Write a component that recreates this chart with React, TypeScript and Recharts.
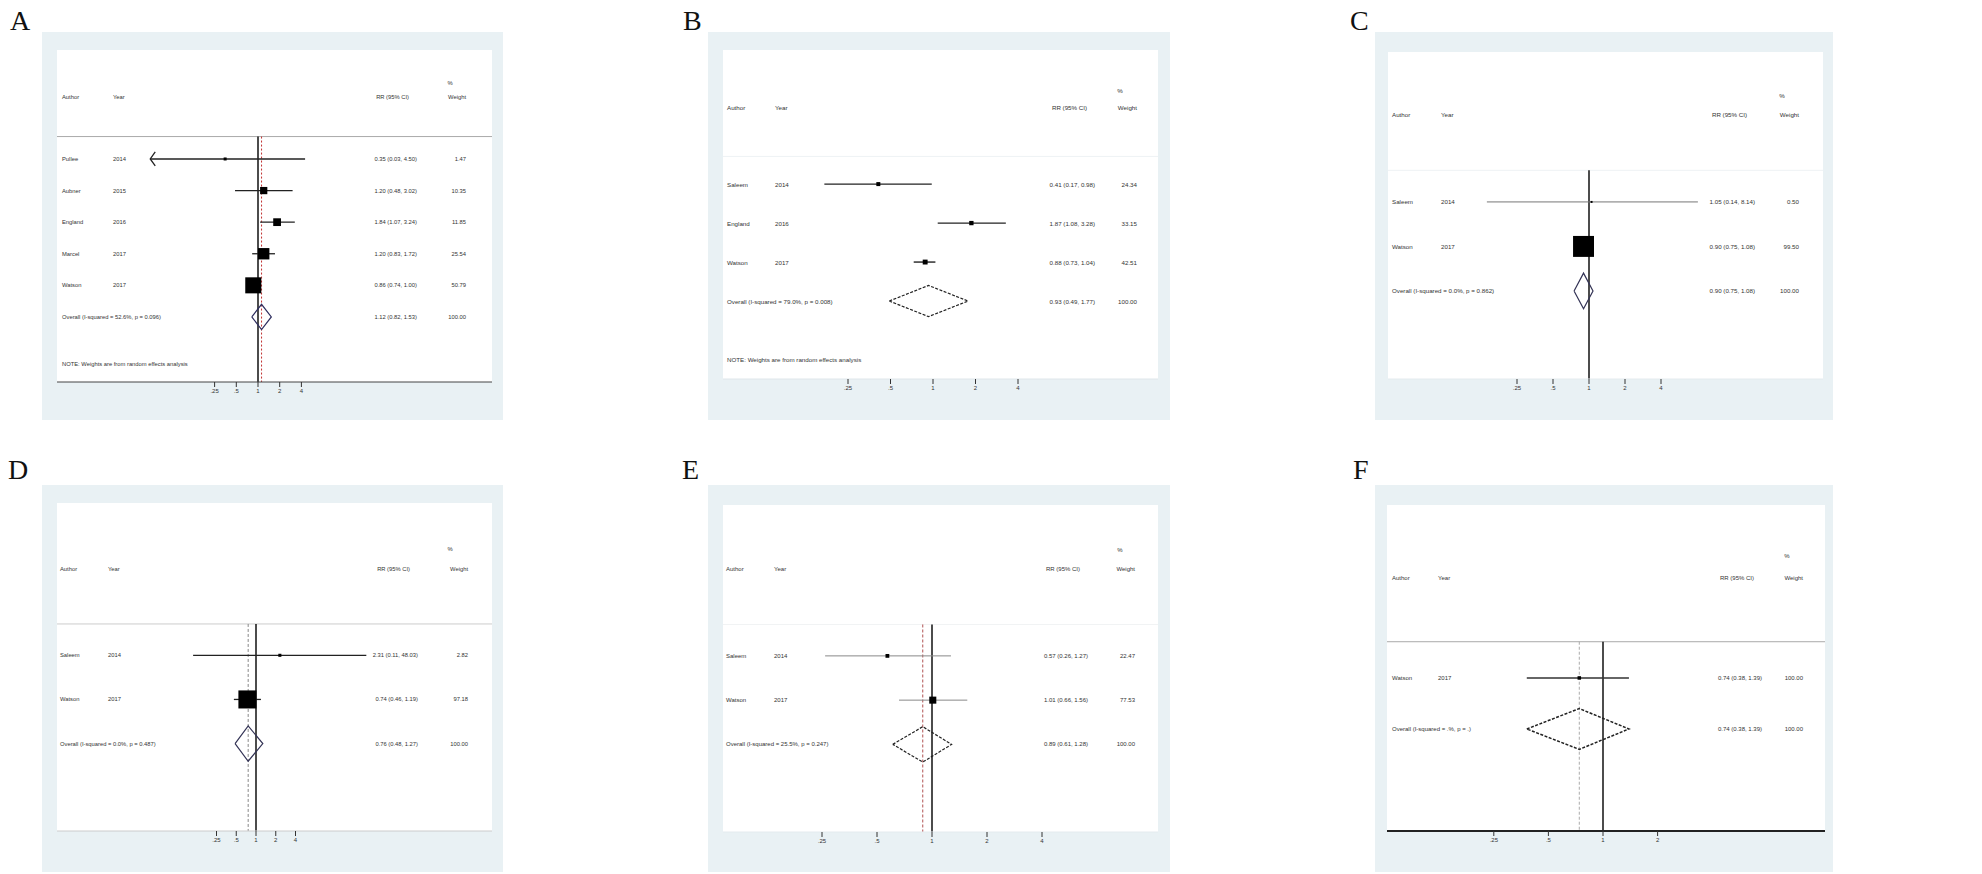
import React from 'react';
import { ComposedChart, XAxis, YAxis, Scatter, ReferenceLine } from 'recharts';

// ---------- Panel A ----------
const aAuthors = ['Pullee', 'Aubner', 'England', 'Marcel', 'Watson'];
const aYears = ['2014', '2015', '2016', '2017', '2017'];
const aEst = [0.35, 1.2, 1.84, 1.2, 0.86];
const aLo = [0.03, 0.48, 1.07, 0.83, 0.74];
const aHi = [4.5, 3.02, 3.24, 1.72, 1.0];
const aWeights = [1.47, 10.35, 11.85, 25.54, 50.79];
const aOverall = [1.12, 0.82, 1.53];
const aHet = ['52.6%', '0.096'];

// ---------- Panel B ----------
const bAuthors = ['Saleem', 'England', 'Watson'];
const bYears = ['2014', '2016', '2017'];
const bEst = [0.41, 1.87, 0.88];
const bLo = [0.17, 1.08, 0.73];
const bHi = [0.98, 3.28, 1.04];
const bWeights = [24.34, 33.15, 42.51];
const bOverall = [0.93, 0.49, 1.77];
const bHet = ['79.0%', '0.008'];

// ---------- Panel C ----------
const cAuthors = ['Saleem', 'Watson'];
const cYears = ['2014', '2017'];
const cEst = [1.05, 0.9];
const cLo = [0.14, 0.75];
const cHi = [8.14, 1.08];
const cWeights = [0.5, 99.5];
const cOverall = [0.9, 0.75, 1.08];
const cHet = ['0.0%', '0.862'];

// ---------- Panel D ----------
const dAuthors = ['Saleem', 'Watson'];
const dYears = ['2014', '2017'];
const dEst = [2.31, 0.74];
const dLo = [0.11, 0.46];
const dHi = [48.03, 1.19];
const dWeights = [2.82, 97.18];
const dOverall = [0.76, 0.48, 1.27];
const dHet = ['0.0%', '0.487'];

// ---------- Panel E ----------
const eAuthors = ['Saleem', 'Watson'];
const eYears = ['2014', '2017'];
const eEst = [0.57, 1.01];
const eLo = [0.26, 0.66];
const eHi = [1.27, 1.56];
const eWeights = [22.47, 77.53];
const eOverall = [0.89, 0.61, 1.28];
const eHet = ['25.5%', '0.247'];

// ---------- Panel F ----------
const fAuthors = ['Watson'];
const fYears = ['2017'];
const fEst = [0.74];
const fLo = [0.38];
const fHi = [1.39];
const fWeights = [100.0];
const fOverall = [0.74, 0.38, 1.39];
const fHet = ['.%', '.'];

const ticks5 = [0.25, 0.5, 1, 2, 4];
const ticks4 = [0.25, 0.5, 1, 2];
const headerLabels = ['Author', 'Year', 'RR (95% CI)', 'Weight', '%'];
const noteText = 'NOTE: Weights are from random effects analysis';

const FONT = '"Liberation Sans", Arial, sans-serif';

const fmtTick = (v: number) => (v < 1 ? String(v).replace(/^0/, '') : String(v));
const fmtCI = (e: number, l: number, h: number) => `${e.toFixed(2)} (${l.toFixed(2)}, ${h.toFixed(2)})`;

type Cfg = {
  letter: string; letterX: number; letterY: number;
  box: [number, number, number, number];
  left: number; top: number; w: number; h: number;
  nullX: number; ppd: number; yTop: number; yBot: number;
  cA: number; cY: number; cRR: number; cW: number; cPct: number; fs: number;
  boxK: number; minBox: number;
  ciStroke: string; ciW: number;
  dStroke: string; dDash?: string; dW: number;
  oLine?: { c: string; dash: string };
  nullLine: boolean; hLine: string; axis: string; axisW: number;
  ticks: number[]; clipMin?: number; note: boolean;
};

type PanelData = {
  authors: string[]; years: string[]; est: number[]; lo: number[]; hi: number[]; weights: number[];
  overall: number[]; het: string[];
};

function ForestPanel({ cfg, d }: { cfg: Cfg; d: PanelData }) {
  const axisH = 28;
  const dLo = Math.pow(2, -cfg.nullX / cfg.ppd);
  const dHi = Math.pow(2, (cfg.w - cfg.nullX) / cfg.ppd);
  const n = d.authors.length;
  const oRow = n;
  const hLineRow = -0.71;
  const studies = d.authors.map((a, i) => ({ x: d.est[i], y: i, w: d.weights[i] }));
  const textRows = [
    ...d.authors.map((a, i) => ({
      x: 1, y: i, a, yr: d.years[i], ci: fmtCI(d.est[i], d.lo[i], d.hi[i]), wt: d.weights[i].toFixed(2),
    })),
    {
      x: 1, y: oRow, a: `Overall  (I-squared = ${d.het[0]}, p = ${d.het[1]})`, yr: '',
      ci: fmtCI(d.overall[0], d.overall[1], d.overall[2]), wt: '100.00',
    },
  ];
  const [oe, ol, oh] = d.overall;
  const diamond = [
    { x: ol, y: oRow }, { x: oe, y: oRow - 0.4 }, { x: oh, y: oRow }, { x: oe, y: oRow + 0.4 }, { x: ol, y: oRow },
  ];
  const arrows = d.lo.map((l, i) => ({ l, i })).filter((o) => cfg.clipMin && o.l < cfg.clipMin)
    .map((o) => ({ x: cfg.clipMin as number, y: o.i }));
  const textStyle = { fontFamily: FONT, fontSize: cfg.fs, fill: '#333' };

  return (
    <>
      <div style={{ position: 'absolute', left: cfg.box[0], top: cfg.box[1], width: cfg.box[2], height: cfg.box[3], background: '#e9f1f4' }} />
      <div style={{ position: 'absolute', left: cfg.left, top: cfg.top, width: cfg.w, height: cfg.h, background: '#ffffff' }} />
      <div style={{ position: 'absolute', left: cfg.letterX, top: cfg.letterY, fontFamily: '"Liberation Serif", "Times New Roman", serif', fontSize: 28, lineHeight: 1, color: '#111' }}>{cfg.letter}</div>
      <div style={{ position: 'absolute', left: cfg.left, top: cfg.top }}>
        <ComposedChart width={cfg.w} height={cfg.h + axisH} margin={{ top: 0, right: 0, bottom: 0, left: 0 }}>
          <XAxis
            type="number" dataKey="x" scale="log" domain={[dLo, dHi]} allowDataOverflow
            ticks={cfg.ticks} tickFormatter={fmtTick} height={axisH} interval={0}
            tick={{ fontSize: 6, fill: '#333', fontFamily: FONT }}
            tickLine={{ stroke: '#333', strokeWidth: 1 }} tickSize={5}
            axisLine={{ stroke: cfg.axis, strokeWidth: cfg.axisW }}
          />
          <YAxis type="number" dataKey="y" domain={[cfg.yTop, cfg.yBot]} reversed hide allowDataOverflow />
          <ReferenceLine y={hLineRow} stroke={cfg.hLine} strokeWidth={1} ifOverflow="visible" />
          {cfg.nullLine && (
            <ReferenceLine segment={[{ x: 1, y: hLineRow }, { x: 1, y: cfg.yBot }]} stroke="#111" strokeWidth={1.5} ifOverflow="visible" />
          )}
          {cfg.oLine && (
            <ReferenceLine segment={[{ x: oe, y: hLineRow }, { x: oe, y: cfg.yBot }]} stroke={cfg.oLine.c} strokeWidth={1} strokeDasharray={cfg.oLine.dash} ifOverflow="visible" />
          )}
          {d.lo.map((l, i) => (
            <ReferenceLine
              key={`ci${i}`}
              segment={[{ x: cfg.clipMin && l < cfg.clipMin ? cfg.clipMin : l, y: i }, { x: d.hi[i], y: i }]}
              stroke={cfg.ciStroke} strokeWidth={cfg.ciW} ifOverflow="visible"
            />
          ))}
          <Scatter
            data={arrows} isAnimationActive={false}
            shape={(p: any) => (
              <polyline points={`${p.cx + 5},${p.cy - 7} ${p.cx},${p.cy} ${p.cx + 5},${p.cy + 7}`} fill="none" stroke={cfg.ciStroke} strokeWidth={1.3} />
            )}
          />
          <Scatter
            data={studies} isAnimationActive={false}
            shape={(p: any) => {
              const s = Math.max(cfg.minBox, cfg.boxK * Math.sqrt(p.payload.w));
              return <rect x={p.cx - s / 2} y={p.cy - s / 2} width={s} height={s} fill="#000" />;
            }}
          />
          <Scatter
            data={diamond} isAnimationActive={false}
            line={{ stroke: cfg.dStroke, strokeWidth: cfg.dW, strokeDasharray: cfg.dDash }}
            shape={() => <g />}
          />
          <Scatter
            data={textRows} isAnimationActive={false}
            shape={(p: any) => (
              <g style={textStyle as any}>
                <text x={cfg.cA} y={p.cy} dominantBaseline="central" {...textStyle}>{p.payload.a}</text>
                <text x={cfg.cY} y={p.cy} dominantBaseline="central" {...textStyle}>{p.payload.yr}</text>
                <text x={cfg.cRR} y={p.cy} dominantBaseline="central" textAnchor="end" {...textStyle}>{p.payload.ci}</text>
                <text x={cfg.cW} y={p.cy} dominantBaseline="central" textAnchor="end" {...textStyle}>{p.payload.wt}</text>
              </g>
            )}
          />
          <Scatter
            data={[{ x: 1, y: -1.96 }]} isAnimationActive={false}
            shape={(p: any) => (
              <g>
                <text x={cfg.cA} y={p.cy} dominantBaseline="central" {...textStyle}>{headerLabels[0]}</text>
                <text x={cfg.cY} y={p.cy} dominantBaseline="central" {...textStyle}>{headerLabels[1]}</text>
                <text x={cfg.cRR - 8} y={p.cy} dominantBaseline="central" textAnchor="end" {...textStyle}>{headerLabels[2]}</text>
                <text x={cfg.cW} y={p.cy} dominantBaseline="central" textAnchor="end" {...textStyle}>{headerLabels[3]}</text>
              </g>
            )}
          />
          <Scatter
            data={[{ x: 1, y: -2.4 }]} isAnimationActive={false}
            shape={(p: any) => (
              <text x={cfg.cPct} y={p.cy} dominantBaseline="central" textAnchor="middle" {...textStyle}>{headerLabels[4]}</text>
            )}
          />
          {cfg.note && (
            <Scatter
              data={[{ x: 1, y: oRow + 1.5 }]} isAnimationActive={false}
              shape={(p: any) => (
                <text x={cfg.cA} y={p.cy} dominantBaseline="central" {...textStyle}>{noteText}</text>
              )}
            />
          )}
        </ComposedChart>
      </div>
    </>
  );
}

const cfgA: Cfg = {
  letter: 'A', letterX: 10, letterY: 7, box: [42, 32, 461, 388],
  left: 57, top: 50, w: 435, h: 332, nullX: 201, ppd: 21.7, yTop: -3.45, yBot: 7.06,
  cA: 5, cY: 56, cRR: 360, cW: 409, cPct: 393, fs: 5.8, boxK: 2.25, minBox: 3,
  ciStroke: '#222', ciW: 1.3, dStroke: '#2d2d5e', dW: 1.2, oLine: { c: '#c03030', dash: '2 2' },
  nullLine: true, hLine: '#aaaaaa', axis: '#444', axisW: 1, ticks: ticks5, clipMin: 0.032, note: true,
};
const cfgB: Cfg = {
  letter: 'B', letterX: 683, letterY: 7, box: [708, 32, 462, 388],
  left: 723, top: 50, w: 435, h: 329, nullX: 210, ppd: 42.5, yTop: -3.44, yBot: 5.0,
  cA: 4, cY: 52, cRR: 372, cW: 414, cPct: 397, fs: 6.2, boxK: 0.75, minBox: 4,
  ciStroke: '#222', ciW: 1.4, dStroke: '#222', dDash: '3 1.5', dW: 1.2,
  nullLine: false, hLine: '#eef2f5', axis: '#dfe6ea', axisW: 1, ticks: ticks5, note: true,
};
const cfgC: Cfg = {
  letter: 'C', letterX: 1350, letterY: 7, box: [1375, 32, 458, 388],
  left: 1388, top: 52, w: 435, h: 327, nullX: 201, ppd: 36, yTop: -3.37, yBot: 3.98,
  cA: 4, cY: 53, cRR: 367, cW: 411, cPct: 394, fs: 6.2, boxK: 2.1, minBox: 2,
  ciStroke: '#777', ciW: 1, dStroke: '#333355', dW: 1.2,
  nullLine: true, hLine: '#eef2f4', axis: '#e4ebee', axisW: 1, ticks: ticks5, note: false,
};
const cfgD: Cfg = {
  letter: 'D', letterX: 8, letterY: 456, box: [42, 485, 461, 387],
  left: 57, top: 503, w: 435, h: 328, nullX: 199, ppd: 19.75, yTop: -3.45, yBot: 3.98,
  cA: 3, cY: 51, cRR: 361, cW: 411, cPct: 393, fs: 5.8, boxK: 1.83, minBox: 3,
  ciStroke: '#222', ciW: 1.3, dStroke: '#333355', dW: 1.2, oLine: { c: '#888', dash: '3 2' },
  nullLine: true, hLine: '#cccccc', axis: '#cccccc', axisW: 1, ticks: ticks5, note: false,
};
const cfgE: Cfg = {
  letter: 'E', letterX: 682, letterY: 456, box: [708, 485, 462, 387],
  left: 723, top: 505, w: 435, h: 327, nullX: 209, ppd: 55, yTop: -3.41, yBot: 3.98,
  cA: 3, cY: 51, cRR: 365, cW: 412, cPct: 397, fs: 6, boxK: 0.8, minBox: 3.5,
  ciStroke: '#888', ciW: 1, dStroke: '#222', dDash: '3 1.5', dW: 1.2, oLine: { c: '#b05050', dash: '3 2' },
  nullLine: true, hLine: '#f1f3f4', axis: '#e4ebee', axisW: 1, ticks: ticks5, note: false,
};
const cfgF: Cfg = {
  letter: 'F', letterX: 1353, letterY: 456, box: [1375, 485, 458, 387],
  left: 1387, top: 505, w: 438, h: 326, nullX: 216, ppd: 54.6, yTop: -3.39, yBot: 3.0,
  cA: 5, cY: 51, cRR: 375, cW: 416, cPct: 400, fs: 6, boxK: 0.3, minBox: 3.5,
  ciStroke: '#333', ciW: 1.5, dStroke: '#222', dDash: '3 1.5', dW: 1.5, oLine: { c: '#aaa', dash: '3 2' },
  nullLine: true, hLine: '#aaaaaa', axis: '#222', axisW: 2, ticks: ticks4, note: false,
};

const dataA: PanelData = { authors: aAuthors, years: aYears, est: aEst, lo: aLo, hi: aHi, weights: aWeights, overall: aOverall, het: aHet };
const dataB: PanelData = { authors: bAuthors, years: bYears, est: bEst, lo: bLo, hi: bHi, weights: bWeights, overall: bOverall, het: bHet };
const dataC: PanelData = { authors: cAuthors, years: cYears, est: cEst, lo: cLo, hi: cHi, weights: cWeights, overall: cOverall, het: cHet };
const dataD: PanelData = { authors: dAuthors, years: dYears, est: dEst, lo: dLo, hi: dHi, weights: dWeights, overall: dOverall, het: dHet };
const dataE: PanelData = { authors: eAuthors, years: eYears, est: eEst, lo: eLo, hi: eHi, weights: eWeights, overall: eOverall, het: eHet };
const dataF: PanelData = { authors: fAuthors, years: fYears, est: fEst, lo: fLo, hi: fHi, weights: fWeights, overall: fOverall, het: fHet };

export default function App() {
  return (
    <div style={{ position: 'fixed', left: 0, top: 0, width: 1982, height: 874, background: '#fff', overflow: 'hidden' }}>
      <ForestPanel cfg={cfgA} d={dataA} />
      <ForestPanel cfg={cfgB} d={dataB} />
      <ForestPanel cfg={cfgC} d={dataC} />
      <ForestPanel cfg={cfgD} d={dataD} />
      <ForestPanel cfg={cfgE} d={dataE} />
      <ForestPanel cfg={cfgF} d={dataF} />
    </div>
  );
}
